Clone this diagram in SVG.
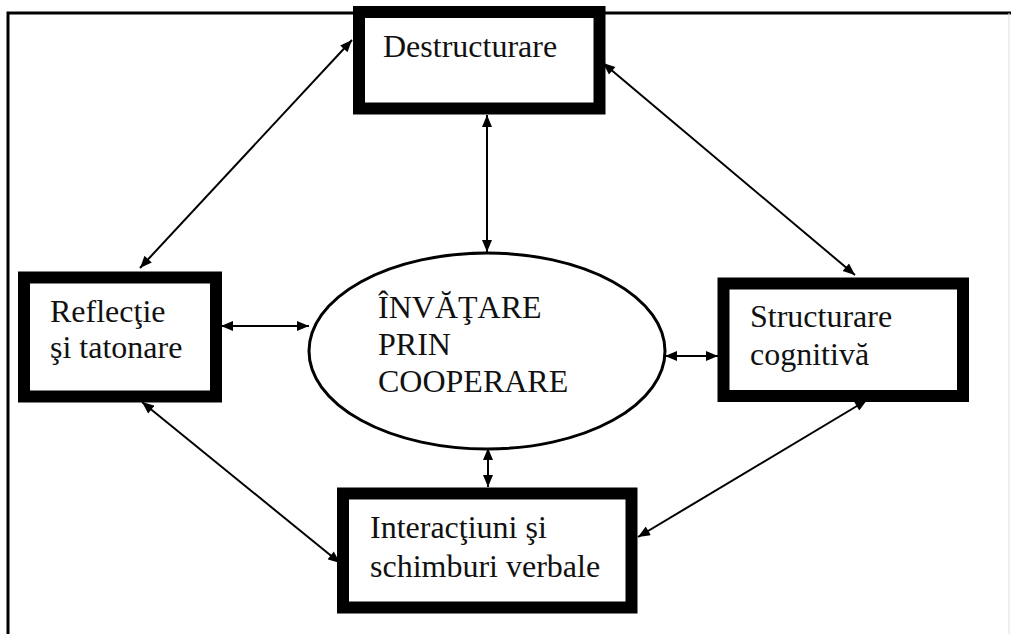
<svg xmlns="http://www.w3.org/2000/svg" width="1011" height="634" viewBox="0 0 1011 634">
  <style>
    .box { fill: #ffffff; stroke: #000000; stroke-width: 12; }
    .ell { fill: #ffffff; stroke: #000000; stroke-width: 3; }
    .lbl { font-family: "Liberation Serif", "Times New Roman", serif; font-size: 32px; fill: #111111; }
    .con { stroke: #000000; stroke-width: 2; fill: none; marker-start: url(#ah); marker-end: url(#ah); }
    .frame { stroke: #000000; stroke-width: 3; fill: none; }
  </style>
  <defs>
    <marker id="ah" viewBox="0 0 12 10" refX="12" refY="5" markerWidth="13" markerHeight="10" markerUnits="userSpaceOnUse" orient="auto-start-reverse">
      <path d="M0,0 L12,5 L0,10 Z" fill="#000000"/>
    </marker>
  </defs>
  <rect x="0" y="0" width="1011" height="634" fill="#ffffff"/>
  <path class="frame" d="M8,634 V13 H1011"/>
  <line x1="1009" y1="13" x2="1009" y2="634" stroke="#dddddd" stroke-width="1"/>

  <g id="connectors">
    <line class="con" x1="352" y1="40" x2="140" y2="268"/>
    <line class="con" x1="603" y1="63" x2="855" y2="275"/>
    <line class="con" x1="142" y1="402" x2="340" y2="563"/>
    <line class="con" x1="867" y1="400" x2="638" y2="537"/>
    <line class="con" x1="487" y1="115" x2="487" y2="252"/>
    <line class="con" x1="221" y1="326" x2="309" y2="326"/>
    <line class="con" x1="665" y1="356" x2="718" y2="356"/>
    <line class="con" x1="488" y1="448" x2="488" y2="487"/>
  </g>

  <g id="destructurare">
    <rect class="box" x="359" y="12" width="240.5" height="96.5"/>
    <text class="lbl" x="383" y="57">Destructurare</text>
  </g>

  <g id="reflectie">
    <rect class="box" x="24" y="277.5" width="192" height="119"/>
    <text class="lbl" x="50" y="322">Reflecţie</text>
    <text class="lbl" x="50" y="358">şi tatonare</text>
  </g>

  <g id="structurare">
    <rect class="box" x="723.5" y="283.5" width="239.5" height="112.5"/>
    <text class="lbl" x="750" y="327">Structurare</text>
    <text class="lbl" x="750" y="365">cognitivă</text>
  </g>

  <g id="interactiuni">
    <rect class="box" x="343" y="493.5" width="288.5" height="114"/>
    <text class="lbl" x="370" y="538">Interacţiuni şi</text>
    <text class="lbl" x="370" y="577">schimburi verbale</text>
  </g>

  <g id="invatare">
    <ellipse class="ell" cx="487" cy="351" rx="178" ry="98"/>
    <text class="lbl" x="378" y="318">ÎNVĂŢARE</text>
    <text class="lbl" x="378" y="355">PRIN</text>
    <text class="lbl" x="378" y="392">COOPERARE</text>
  </g>
</svg>
